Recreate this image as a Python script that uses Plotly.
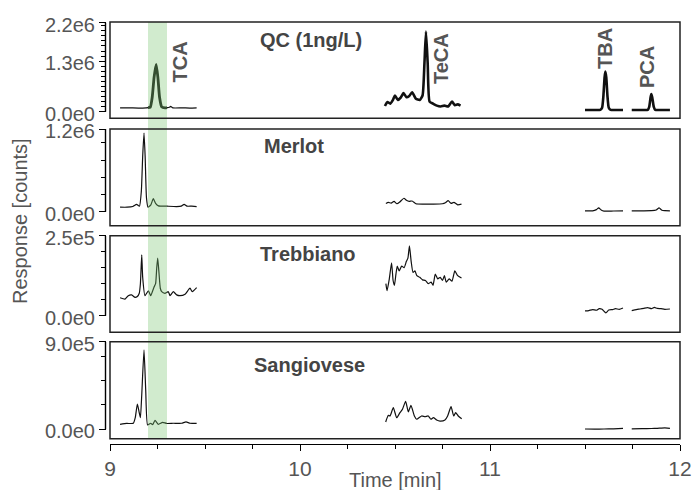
import plotly.graph_objects as go

W, H = 693, 490

# ---------------- data (time [min], response [counts]) ----------------
QC_TCA_T = [9.053, 9.10, 9.15, 9.19, 9.20, 9.212, 9.222, 9.232, 9.243, 9.252, 9.261, 9.272, 9.29, 9.30, 9.312, 9.319, 9.33, 9.38, 9.42, 9.456]
QC_TCA_V = [9.5e4, 9.5e4, 9.0e4, 9.5e4, 1.0e5, 1.1e5, 3.5e5, 8.5e5, 1.17e6, 8.5e5, 3.5e5, 1.2e5, 9.5e4, 1.0e5, 1.1e5, 1.3e5, 9.5e4, 9.5e4, 9.0e4, 9.5e4]
QC_TECA_T = [10.447, 10.46, 10.475, 10.49, 10.50, 10.515, 10.53, 10.545, 10.56, 10.575, 10.59, 10.61, 10.63, 10.645, 10.655, 10.663, 10.672, 10.682, 10.70, 10.72, 10.74, 10.76, 10.78, 10.80, 10.815, 10.83, 10.845]
QC_TECA_V = [1.4e5, 2.4e5, 2.0e5, 3.0e5, 4.0e5, 2.9e5, 3.5e5, 4.6e5, 3.6e5, 3.9e5, 4.8e5, 3.2e5, 2.9e5, 4.0e5, 1.2e6, 1.98e6, 1.2e6, 2.5e5, 2.0e5, 1.5e5, 1.3e5, 1.5e5, 1.3e5, 2.5e5, 1.6e5, 1.8e5, 1.5e5]
QC_TBA_T = [11.50, 11.55, 11.58, 11.59, 11.597, 11.603, 11.607, 11.612, 11.618, 11.625, 11.635, 11.67, 11.70]
QC_TBA_V = [4.2e4, 4.2e4, 4.5e4, 1.0e5, 4.0e5, 8.5e5, 9.9e5, 8.5e5, 4.0e5, 1.0e5, 4.5e4, 4.2e4, 4.2e4]
QC_PCA_T = [11.746, 11.80, 11.83, 11.838, 11.845, 11.849, 11.854, 11.862, 11.87, 11.90, 11.947]
QC_PCA_V = [4.2e4, 4.2e4, 4.5e4, 1.2e5, 3.5e5, 4.35e5, 3.5e5, 1.2e5, 4.5e4, 4.2e4, 4.2e4]

ME_TCA_T = [9.053, 9.09, 9.12, 9.14, 9.155, 9.165, 9.172, 9.179, 9.185, 9.192, 9.20, 9.215, 9.228, 9.24, 9.255, 9.30, 9.35, 9.375, 9.39, 9.405, 9.43, 9.456]
ME_TCA_V = [6.5e4, 6.5e4, 7.5e4, 1.05e5, 8.0e4, 3.0e5, 8.0e5, 1.14e6, 8.0e5, 2.0e5, 6.5e4, 1.0e5, 1.9e5, 1.2e5, 8.5e4, 8.0e4, 7.5e4, 8.0e4, 1.07e5, 8.0e4, 8.0e4, 7.5e4]
ME_TECA_T = [10.452, 10.465, 10.48, 10.495, 10.51, 10.525, 10.547, 10.56, 10.575, 10.59, 10.61, 10.65, 10.70, 10.75, 10.765, 10.78, 10.795, 10.81, 10.83, 10.85]
ME_TECA_V = [1.2e5, 1.35e5, 1.25e5, 1.5e5, 1.15e5, 1.4e5, 1.95e5, 1.65e5, 1.5e5, 1.55e5, 1.15e5, 1.1e5, 1.1e5, 1.15e5, 1.3e5, 1.6e5, 1.2e5, 1.35e5, 1.0e5, 1.1e5]
ME_TBA_T = [11.50, 11.54, 11.56, 11.572, 11.585, 11.60, 11.65, 11.70]
ME_TBA_V = [1.2e4, 1.2e4, 3.0e4, 5.5e4, 2.5e4, 8.0e3, 1.0e4, 1.2e4]
ME_PCA_T = [11.746, 11.80, 11.85, 11.875, 11.89, 11.905, 11.92, 11.947]
ME_PCA_V = [1.2e4, 1.3e4, 1.5e4, 2.5e4, 5.5e4, 2.0e4, 1.5e4, 1.2e4]

TR_TCA_T = [9.053, 9.079, 9.096, 9.114, 9.132, 9.144, 9.154, 9.160, 9.167, 9.172, 9.184, 9.202, 9.214, 9.232, 9.240, 9.246, 9.251, 9.257, 9.265, 9.272, 9.289, 9.307, 9.316, 9.333, 9.351, 9.368, 9.395, 9.421, 9.433, 9.456]
TR_TCA_V = [5.6e4, 5.2e4, 6.25e4, 6.5e4, 5.7e4, 6.0e4, 7.0e4, 1.0e5, 1.9e5, 1.2e5, 6.25e4, 7.8e4, 6.25e4, 9.0e4, 1.0e5, 1.5e5, 1.8e5, 1.4e5, 8.5e4, 7.5e4, 7.0e4, 7.5e4, 6.25e4, 7.5e4, 6.5e4, 6.25e4, 6.7e4, 8.6e4, 7.5e4, 8.75e4]
TR_TECA_T = [10.452, 10.458, 10.470, 10.482, 10.490, 10.497, 10.505, 10.512, 10.522, 10.535, 10.548, 10.560, 10.568, 10.576, 10.585, 10.595, 10.605, 10.615, 10.63, 10.645, 10.66, 10.675, 10.69, 10.70, 10.712, 10.725, 10.738, 10.75, 10.76, 10.77, 10.785, 10.80, 10.815, 10.83, 10.85]
TR_TECA_V = [1.0e5, 7.8e4, 1.15e5, 1.65e5, 1.1e5, 9.5e4, 1.3e5, 1.55e5, 1.4e5, 1.55e5, 1.5e5, 1.7e5, 1.8e5, 2.18e5, 1.7e5, 1.35e5, 1.4e5, 1.25e5, 1.2e5, 1.12e5, 1.1e5, 1.0e5, 1.05e5, 9.5e4, 1.3e5, 1.15e5, 1.2e5, 1.1e5, 1.25e5, 1.05e5, 1.15e5, 1.08e5, 1.4e5, 1.25e5, 1.18e5]
TR_TBA_T = [11.50, 11.52, 11.54, 11.56, 11.575, 11.59, 11.61, 11.625, 11.645, 11.66, 11.68, 11.70]
TR_TBA_V = [1.5e4, 1.6e4, 1.9e4, 1.7e4, 2.2e4, 2.0e4, 9.0e3, 1.8e4, 1.9e4, 2.2e4, 2.0e4, 2.4e4]
TR_PCA_T = [11.746, 11.77, 11.79, 11.81, 11.83, 11.85, 11.865, 11.88, 11.90, 11.92, 11.947]
TR_PCA_V = [1.6e4, 1.9e4, 2.1e4, 2.3e4, 2.5e4, 2.2e4, 2.6e4, 2.3e4, 2.2e4, 2.0e4, 2.1e4]

SA_TCA_T = [9.053, 9.088, 9.123, 9.133, 9.144, 9.153, 9.160, 9.167, 9.179, 9.188, 9.198, 9.214, 9.225, 9.237, 9.254, 9.277, 9.298, 9.333, 9.377, 9.400, 9.421, 9.456]
SA_TCA_V = [5.1e4, 6.0e4, 6.2e4, 1.2e5, 2.6e5, 1.8e5, 1.2e5, 3.5e5, 8.15e5, 4.0e5, 4.4e4, 6.2e4, 4.8e4, 9.2e4, 5.1e4, 7.2e4, 6.0e4, 6.2e4, 6.2e4, 7.6e4, 6.2e4, 6.0e4]
SA_TECA_T = [10.451, 10.465, 10.474, 10.491, 10.509, 10.526, 10.539, 10.556, 10.570, 10.584, 10.602, 10.614, 10.640, 10.658, 10.675, 10.689, 10.702, 10.719, 10.737, 10.763, 10.777, 10.795, 10.809, 10.819, 10.833, 10.851]
SA_TECA_V = [7.5e4, 1.44e5, 1.37e5, 2.22e5, 1.19e5, 1.71e5, 2.05e5, 2.88e5, 1.78e5, 2.46e5, 1.37e5, 1.03e5, 1.37e5, 1.29e5, 1.37e5, 1.03e5, 1.19e5, 9.6e4, 8.5e4, 9.6e4, 1.37e5, 2.32e5, 1.37e5, 1.71e5, 1.37e5, 1.09e5]
SA_TBA_T = [11.50, 11.55, 11.60, 11.65, 11.70]
SA_TBA_V = [3.0e3, 2.0e3, 3.0e3, 5.0e3, 1.0e4]
SA_PCA_T = [11.746, 11.80, 11.85, 11.88, 11.92, 11.947]
SA_PCA_V = [5.0e3, 6.0e3, 8.0e3, 1.0e4, 1.4e4, 1.0e4]

PANEL_TITLES = ["QC (1ng/L)", "Merlot", "Trebbiano", "Sangiovese"]
Y_TICK_VALS = [[0, 1.25e6, 2.2e6], [0, 1.2e6], [0, 2.5e5], [0, 9.0e5]]
Y_TICK_TEXT = [["0.0e0", "1.3e6", "2.2e6"], ["0.0e0", "1.2e6"], ["0.0e0", "2.5e5"], ["0.0e0", "9.0e5"]]
Y_MINOR_STEP = [1.25e5, 2.5e5, 5.0e4, 2.5e5]
X_TICK_VALS = [9, 10, 11, 12]
X_TICK_TEXT = ["9", "10", "11", "12"]
COMPOUNDS = ["TCA", "TeCA", "TBA", "PCA"]
BAND = (9.2, 9.3)

SEGMENTS = [
    [(QC_TCA_T, QC_TCA_V), (QC_TECA_T, QC_TECA_V), (QC_TBA_T, QC_TBA_V), (QC_PCA_T, QC_PCA_V)],
    [(ME_TCA_T, ME_TCA_V), (ME_TECA_T, ME_TECA_V), (ME_TBA_T, ME_TBA_V), (ME_PCA_T, ME_PCA_V)],
    [(TR_TCA_T, TR_TCA_V), (TR_TECA_T, TR_TECA_V), (TR_TBA_T, TR_TBA_V), (TR_PCA_T, TR_PCA_V)],
    [(SA_TCA_T, SA_TCA_V), (SA_TECA_T, SA_TECA_V), (SA_TBA_T, SA_TBA_V), (SA_PCA_T, SA_PCA_V)],
]

# ---------------- layout geometry (pixels) ----------------
FONT = "Liberation Sans, Arial, Helvetica, sans-serif"
TICK_GREY = "#555555"
TITLE_GREY = "#444444"
X_LEFT, X_RIGHT = 110, 680
Y_AXIS_X = 105.5
BOXES = [(22, 118.3), (129, 225.7), (235.7, 332.3), (341.7, 438.7)]
ZERO_PX = [111.7, 211.7, 315.7, 429.3]
TOP_PX = [22.7, 129, 235.7, 341.7]
X_AXIS_Y = 444


def px_x(p):
    return p / W


def px_y(p):
    return 1 - p / H


fig = go.Figure()
layout = dict(
    width=W, height=H, autosize=False,
    margin=dict(l=0, r=0, t=0, b=0, pad=0, autoexpand=False),
    paper_bgcolor="white", plot_bgcolor="rgba(0,0,0,0)",
    showlegend=False,
    font=dict(family=FONT, size=20, color=TICK_GREY),
)

shapes = []
annotations = []

for i in range(4):
    yname = "y" if i == 0 else f"y{i + 1}"
    ykey = "yaxis" if i == 0 else f"yaxis{i + 1}"
    ymax = Y_TICK_VALS[i][-1]
    top, bot = BOXES[i]
    scale = (ZERO_PX[i] - TOP_PX[i]) / ymax
    r0 = -(bot - ZERO_PX[i]) / scale
    r1 = ymax + (TOP_PX[i] - top) / scale
    minor_vals = []
    k = 1
    while k * Y_MINOR_STEP[i] < ymax - 1e-9:
        minor_vals.append(k * Y_MINOR_STEP[i])
        k += 1
    layout[ykey] = dict(
        domain=[px_y(bot), px_y(top)],
        range=[r0, r1], automargin=False,
        anchor="free", position=px_x(Y_AXIS_X),
        showline=False, showgrid=False, zeroline=False,
        ticks="outside", ticklen=6.5, tickwidth=1.3, tickcolor="black",
        tickmode="array", tickvals=Y_TICK_VALS[i], ticktext=Y_TICK_TEXT[i],
        tickfont=dict(family=FONT, size=20, color=TICK_GREY),
        ticklabelshift=2,
        minor=dict(tickmode="array", tickvals=minor_vals, ticks="outside",
                   ticklen=4.3, tickwidth=1.3, tickcolor="black", showgrid=False),
        fixedrange=True,
    )
    # detached y axis line (from 0 to the top label)
    shapes.append(dict(type="line", xref="paper", yref=yname,
                       x0=px_x(Y_AXIS_X), x1=px_x(Y_AXIS_X), y0=0, y1=ymax,
                       line=dict(color="black", width=1.4), layer="above"))

    for j, (tt, vv) in enumerate(SEGMENTS[i]):
        thick = (i == 0 and j > 0)
        fig.add_trace(go.Scatter(
            x=tt, y=vv, xaxis="x", yaxis=yname, mode="lines",
            line=dict(color="#111111", width=2.6 if thick else 1.2, shape="spline", smoothing=0.5),
            hoverinfo="skip"))
        if i == 0 and j == 0:
            bt = [t for t in tt if BAND[0] <= t <= BAND[1]]
            bv = [v for t, v in zip(tt, vv) if BAND[0] <= t <= BAND[1]]
            fig.add_trace(go.Scatter(
                x=bt, y=bv, xaxis="x", yaxis=yname, mode="lines",
                line=dict(color="#111111", width=2.8, shape="spline", smoothing=0.5),
                hoverinfo="skip"))

# green highlight band (translucent, over traces)
shapes.append(dict(type="rect", xref="x", yref="paper", x0=BAND[0], x1=BAND[1],
                   y0=px_y(BOXES[3][1]), y1=px_y(BOXES[0][0]),
                   fillcolor="rgba(120,195,110,0.34)", line=dict(width=0), layer="above"))
# panel boxes
for top, bot in BOXES:
    shapes.append(dict(type="rect", xref="paper", yref="paper",
                       x0=px_x(X_LEFT), x1=px_x(X_RIGHT), y0=px_y(bot), y1=px_y(top),
                       line=dict(color="#222222", width=1.5), fillcolor="rgba(0,0,0,0)",
                       layer="above"))

x_minor = [9 + 0.25 * k for k in range(1, 12) if k % 4 != 0]
layout["xaxis"] = dict(
    domain=[px_x(X_LEFT), px_x(X_RIGHT)], range=[9, 12], automargin=False,
    anchor="free", position=px_y(X_AXIS_Y),
    showline=True, linecolor="black", linewidth=1.4,
    showgrid=False, zeroline=False,
    ticks="outside", ticklen=6, tickwidth=1.3, tickcolor="black",
    tickmode="array", tickvals=X_TICK_VALS, ticktext=X_TICK_TEXT,
    tickfont=dict(family=FONT, size=21, color=TICK_GREY),
    minor=dict(tickmode="array", tickvals=x_minor, ticks="outside",
               ticklen=4, tickwidth=1.3, tickcolor="black", showgrid=False),
    fixedrange=True,
)

# panel titles
TITLE_POS = [(311, 40), (294, 146.5), (308, 254), (309, 365)]
for name, (cx, cy) in zip(PANEL_TITLES, TITLE_POS):
    annotations.append(dict(text=f"<b>{name}</b>", xref="paper", yref="paper",
                            x=px_x(cx), y=px_y(cy), xanchor="center", yanchor="middle",
                            showarrow=False, font=dict(family=FONT, size=20, color=TITLE_GREY)))

# compound labels (rotated)
COMP_POS = [(179.5, 62), (441, 59), (605, 49), (647, 67)]
for name, (cx, cy) in zip(COMPOUNDS, COMP_POS):
    annotations.append(dict(text=f"<b>{name}</b>", xref="paper", yref="paper",
                            x=px_x(cx), y=px_y(cy), xanchor="center", yanchor="middle",
                            textangle=-90, showarrow=False,
                            font=dict(family=FONT, size=20, color=TICK_GREY)))

# axis titles
annotations.append(dict(text="Time [min]", xref="paper", yref="paper",
                        x=px_x(395), y=px_y(480), xanchor="center", yanchor="middle",
                        showarrow=False, font=dict(family=FONT, size=20, color=TICK_GREY)))
annotations.append(dict(text="Response [counts]", xref="paper", yref="paper",
                        x=px_x(20), y=px_y(221), xanchor="center", yanchor="middle",
                        textangle=-90, showarrow=False,
                        font=dict(family=FONT, size=20, color=TICK_GREY)))

layout["shapes"] = shapes
layout["annotations"] = annotations
fig.update_layout(**layout)
fig.write_html("out.html")
